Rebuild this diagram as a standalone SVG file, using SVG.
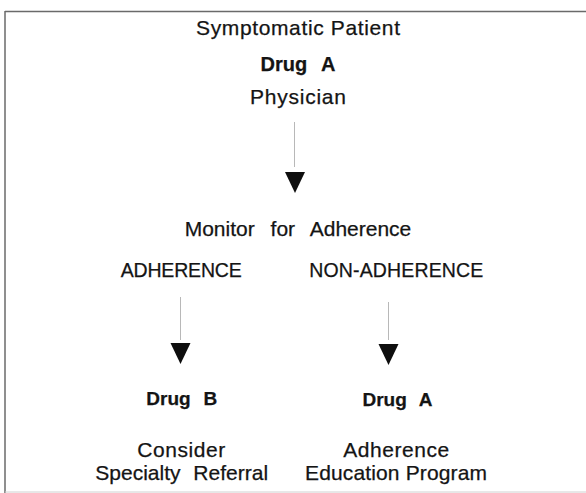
<svg xmlns="http://www.w3.org/2000/svg" xmlns:xlink="http://www.w3.org/1999/xlink" width="586" height="493" viewBox="0 0 586 493">
<style>
  text { font-family: "Liberation Sans", Arial, sans-serif; fill: #141414; stroke: #141414; stroke-width: 0.25; text-anchor: middle; }
  .r { font-size: 21px; }
  .caps { font-size: 19.5px; }
  .b { font-weight: bold; font-size: 20px; word-spacing: 9px; }
  .bs { font-weight: bold; font-size: 19px; word-spacing: 7.5px; }
  .gap { word-spacing: 10px; }
  .gap2 { word-spacing: 7px; }
  .frame { stroke: #6a6a6a; stroke-width: 1.5; fill: none; }
  .frame-faint { stroke: #d0d0d0; stroke-width: 1; fill: none; }
  .conn { stroke: #b8b8b8; stroke-width: 1; fill: none; }
  .head { fill: #0e0e0e; }
</style>
<defs>
  <path id="head" class="head" d="M-10,0 L10,0 L0,21 Z"/>
</defs>
<rect width="586" height="493" fill="#ffffff"/>
<g id="frame">
  <line class="frame" x1="5" y1="11.5" x2="586" y2="11.5"/>
  <line class="frame" x1="5" y1="11" x2="5" y2="493"/>
  <line class="frame-faint" x1="5" y1="492" x2="586" y2="492"/>
</g>
<g id="connectors">
  <line class="conn" x1="294.5" y1="122" x2="294.5" y2="167"/>
  <use xlink:href="#head" x="295" y="172"/>
  <line class="conn" x1="180.5" y1="297" x2="180.5" y2="340"/>
  <use xlink:href="#head" x="180.5" y="343"/>
  <line class="conn" x1="388.5" y1="302" x2="388.5" y2="340"/>
  <use xlink:href="#head" x="388.5" y="344"/>
</g>
<g id="node-start">
  <text class="r" x="298" y="35" textLength="204">Symptomatic Patient</text>
  <text class="b" x="298" y="71">Drug A</text>
  <text class="r" x="298" y="104" textLength="96">Physician</text>
</g>
<g id="node-monitor">
  <text class="r gap" x="298" y="236">Monitor for Adherence</text>
  <text class="caps" x="181.2" y="277" textLength="121">ADHERENCE</text>
  <text class="caps" x="396.3" y="277" textLength="174">NON-ADHERENCE</text>
</g>
<g id="node-drug-b">
  <text class="bs" x="181.7" y="405">Drug B</text>
  <text class="r" x="181.2" y="457" textLength="88">Consider</text>
  <text class="r gap2" x="181.7" y="479.5">Specialty Referral</text>
</g>
<g id="node-drug-a">
  <text class="bs" x="397.5" y="406">Drug A</text>
  <text class="r" x="396.3" y="457" textLength="106">Adherence</text>
  <text class="r" x="396" y="479.5" textLength="182">Education Program</text>
</g>
</svg>
